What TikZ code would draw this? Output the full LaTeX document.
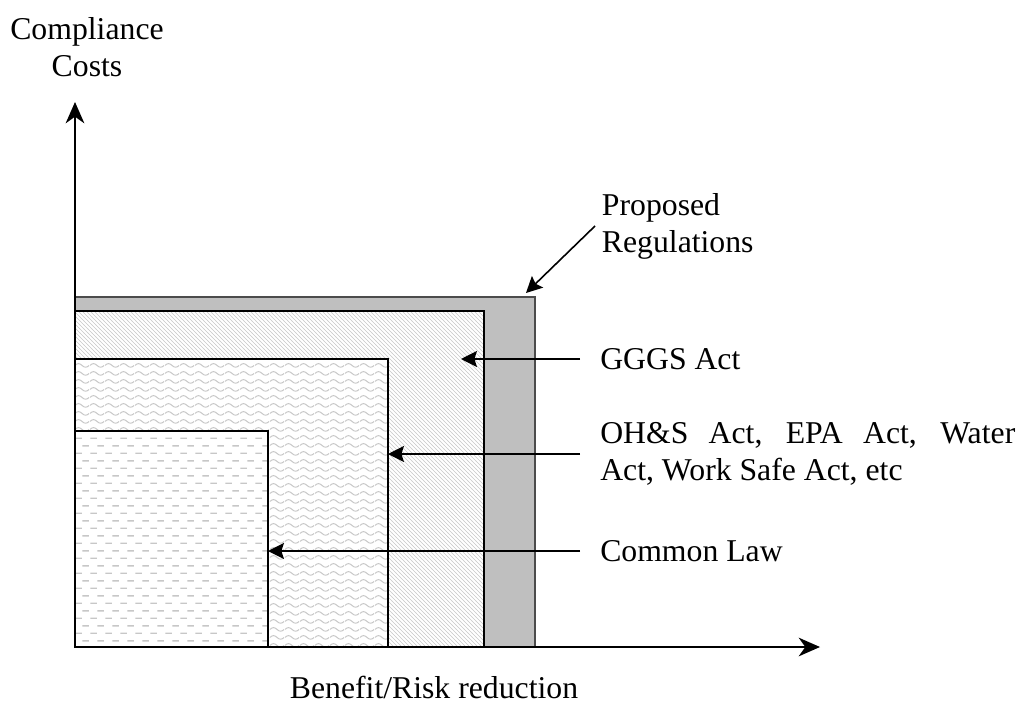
\documentclass[tikz,border=0pt]{standalone}
\usepackage{fontspec}
\setmainfont{Liberation Serif}
\usetikzlibrary{arrows.meta,patterns}

% fill patterns of the three inner areas
\pgfdeclarepatternformonly{dashrows}{\pgfqpoint{0pt}{0pt}}{\pgfqpoint{11.25pt}{11.5pt}}{\pgfqpoint{11.25pt}{11.5pt}}{
  \pgfsetlinewidth{1.1pt}
  \pgfpathmoveto{\pgfqpoint{0.3pt}{2.9pt}}\pgfpathlineto{\pgfqpoint{5.5pt}{2.9pt}}
  \pgfpathmoveto{\pgfqpoint{5.9pt}{8.65pt}}\pgfpathlineto{\pgfqpoint{11.1pt}{8.65pt}}
  \pgfusepath{stroke}}
\pgfdeclarepatternformonly{waverows}{\pgfqpoint{0pt}{0pt}}{\pgfqpoint{11.25pt}{6pt}}{\pgfqpoint{11.25pt}{6pt}}{
  \pgfsetlinewidth{0.8pt}
  \pgfpathmoveto{\pgfqpoint{0pt}{3pt}}
  \pgfpathcurveto{\pgfqpoint{1.9pt}{5pt}}{\pgfqpoint{3.7pt}{5pt}}{\pgfqpoint{5.6pt}{3pt}}
  \pgfpathcurveto{\pgfqpoint{7.5pt}{1pt}}{\pgfqpoint{9.4pt}{1pt}}{\pgfqpoint{11.25pt}{3pt}}
  \pgfusepath{stroke}}

\begin{document}
\begin{tikzpicture}[x=0.75pt,y=-0.75pt,
  every node/.style={font=\fontsize{23.8pt}{27.75pt}\selectfont},
  lbl/.style={anchor=west,inner xsep=15pt,inner ysep=0pt,align=left},
  area/.style={draw=black,line width=1pt,preaction={fill=white},pattern=#1,pattern color=black!22},
  ptr/.style={line width=1.2pt,-{Stealth[length=12pt,width=12pt,inset=2pt]}},
  axis/.style={line width=1.3pt,-{Stealth[length=16pt,width=14pt,inset=5pt]}}]
\useasboundingbox (0,0) rectangle (1020,713);

% nested areas
\filldraw[fill=black!25,draw=black!70,line width=1pt] (75,297) rectangle (535,647);
\draw[area=north west lines] (75,311) rectangle (484,647);
\draw[area=waverows] (75,359) rectangle (388,647);
\draw[area=dashrows] (75,431) rectangle (268,647);

% axes
\coordinate (o) at (75,647);
\coordinate (ytop) at (75,102);
\coordinate (xend) at (820,647);
\draw[axis] (o) -- (ytop);
\draw[axis] (o) -- (xend);
\node (ylab) at (87,47) [align=center] {Compliance\\Costs};
\node (xlab) at (434,687) {Benefit/Risk reduction};

% labels and pointers
\coordinate (propTip) at (526,293);
\coordinate (gggsTip) at (461,359);
\coordinate (ohsTip) at (388,454);
\coordinate (lawTip) at (268,551);
\node[lbl,inner xsep=5pt] (prop) at (595,226) {Proposed\\Regulations};
\node[lbl] (gggs) at (580,359) {GGGS Act};
\node[lbl] (ohs) at (580,454) {\makebox[311.25pt][s]{OH\&S Act, EPA Act, Water}\\Act, Work Safe Act, etc};
\node[lbl] (law) at (580,551) {Common Law};
\draw[ptr] (prop.west) -- (propTip);
\draw[ptr] (gggs.west) -- (gggsTip);
\draw[ptr] (ohs.west) -- (ohsTip);
\draw[ptr] (law.west) -- (lawTip);
\end{tikzpicture}
\end{document}
